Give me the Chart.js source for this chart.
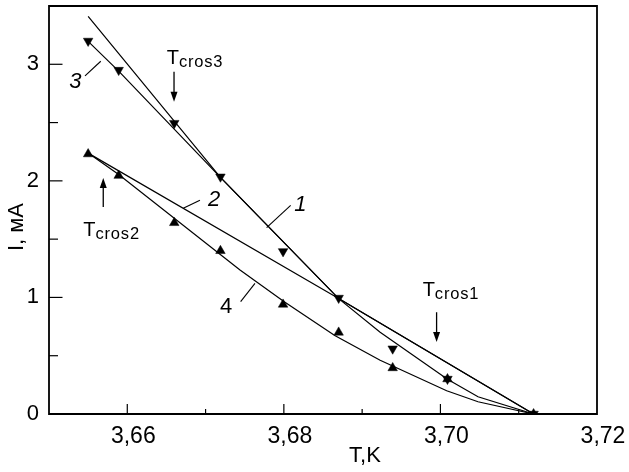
<!DOCTYPE html>
<html><head><meta charset="utf-8">
<script src="https://cdn.jsdelivr.net/npm/chart.js@4"></script>
<style>html,body{margin:0;padding:0;background:#fff}#wrap{width:629px;height:472px;position:relative}</style>
</head><body><div id="wrap"><canvas id="c"></canvas></div>
<script>
// ---- data ----
// series 3 (down triangles)
const tDown = [3.6550, 3.6589, 3.6660, 3.6719, 3.6799, 3.6870, 3.6939, 3.7009, 3.7119];
const iDown = [3.20, 2.95, 2.495, 2.035, 1.395, 0.995, 0.56, 0.30, 0.00];
// series 4 (up triangles)
const tUp = [3.6550, 3.6589, 3.6660, 3.6719, 3.6799, 3.6870, 3.6939, 3.7009, 3.7119];
const iUp = [2.23, 2.045, 1.64, 1.40, 0.94, 0.70, 0.395, 0.30, 0.00];
// curve 1
const tLine1 = [3.6550, 3.6719, 3.6870, 3.7119];
const iLine1 = [3.41, 2.03, 0.99, 0.00];
// curve 2
const tLine2 = [3.6550, 3.6870, 3.7119];
const iLine2 = [2.238, 0.99, 0.00];
// curve 3
const tLine3 = [3.6550, 3.6589, 3.6719, 3.6870, 3.6923, 3.7009, 3.7048, 3.7119];
const iLine3 = [3.197, 2.941, 2.03, 0.99, 0.702, 0.299, 0.148, 0.00];
// curve 4
const tLine4 = [3.6550, 3.6589, 3.6744, 3.6800, 3.6865, 3.6923, 3.7008, 3.7048, 3.7119];
const iLine4 = [2.238, 2.054, 1.235, 0.965, 0.674, 0.461, 0.199, 0.105, 0.00];
// tick labels
const xLabelValues = [3.66, 3.68, 3.70, 3.72];
const xLabelTexts = ['3,66', '3,68', '3,70', '3,72'];
const yLabelValues = [0, 1, 2, 3];
const yLabelTexts = ['0', '1', '2', '3'];
const xTitle = 'T,K';
const yTitle = 'I, мА';
const curveNames = ['1', '2', '3', '4'];
const crossNames = ['cros1', 'cros2', 'cros3'];

// ---- build ----
const pts = (xs, ys) => xs.map((x, k) => ({x: x, y: ys[k]}));
const FONT = '"Liberation Sans", Arial, Helvetica, sans-serif';

function lineDs(xs, ys) {
  return {data: pts(xs, ys), showLine: true, borderColor: '#000', borderWidth: 1.2,
          pointRadius: 0, pointHoverRadius: 0, tension: 0, fill: false};
}
function markDs(xs, ys, rot) {
  return {data: pts(xs, ys), showLine: false, pointStyle: 'triangle', pointRotation: rot,
          pointRadius: 5.5, pointBackgroundColor: '#000', pointBorderColor: '#000', pointBorderWidth: 0.5};
}

// annotation placements (data coordinates)
const notes = {
  labels: [
    {text: curveNames[0], t: 3.68212, i: 1.790, italic: true, lead: [3.68087, 1.789, 3.67780, 1.598]},
    {text: curveNames[1], t: 3.67110, i: 1.840, italic: true, lead: [3.66928, 1.834, 3.66715, 1.764]},
    {text: curveNames[2], t: 3.65338, i: 2.846, italic: true, lead: [3.65460, 2.901, 3.65661, 3.026]},
    {text: curveNames[3], t: 3.67261, i: 0.916, italic: false, lead: [3.67448, 0.964, 3.67631, 1.120]}
  ],
  cros: [
    {sub: crossNames[0], t: 3.69773, i: 1.015, arrow: [3.69951, 0.873, 0.617]},
    {sub: crossNames[1], t: 3.65438, i: 1.527, arrow: [3.65693, 1.775, 2.025]},
    {sub: crossNames[2], t: 3.66503, i: 3.006, arrow: [3.66597, 2.935, 2.679]}
  ]
};

function labelFor(v, vals, texts) {
  for (let k = 0; k < vals.length; k++) if (Math.abs(v - vals[k]) < 1e-6) return texts[k];
  return '';
}

const decor = {
  id: 'decor',
  afterDraw(chart) {
    const ctx = chart.ctx, a = chart.chartArea, xs = chart.scales.x, ys = chart.scales.y;
    ctx.save();
    ctx.strokeStyle = '#000'; ctx.fillStyle = '#000';
    // frame
    ctx.lineWidth = 1.8;
    ctx.beginPath();
    ctx.rect(a.left, a.top, a.right - a.left, a.bottom - a.top);
    ctx.stroke();
    // x ticks (inward)
    ctx.lineWidth = 1.2;
    xs.ticks.forEach(tk => {
      if (Math.abs(tk.value - xs.min) < 1e-9 || Math.abs(tk.value - xs.max) < 1e-9) return;
      const p = xs.getPixelForValue(tk.value);
      const major = labelFor(tk.value, xLabelValues, xLabelTexts) !== '';
      const L = major ? 10 : 5;
      ctx.beginPath(); ctx.moveTo(p, a.bottom); ctx.lineTo(p, a.bottom - L); ctx.stroke();
    });
    ys.ticks.forEach(tk => {
      if (Math.abs(tk.value - ys.min) < 1e-9 || Math.abs(tk.value - ys.max) < 1e-9) return;
      const p = ys.getPixelForValue(tk.value);
      const major = labelFor(tk.value, yLabelValues, yLabelTexts) !== '';
      const L = major ? 13.5 : 9;
      ctx.beginPath(); ctx.moveTo(a.left, p); ctx.lineTo(a.left + L, p); ctx.stroke();
    });
    // curve labels with leaders
    ctx.lineWidth = 1.1;
    notes.labels.forEach(n => {
      ctx.font = (n.italic ? 'italic ' : '') + '22px ' + FONT;
      ctx.textAlign = 'center'; ctx.textBaseline = 'middle';
      ctx.fillText(n.text, xs.getPixelForValue(n.t), ys.getPixelForValue(n.i));
      ctx.beginPath();
      ctx.moveTo(xs.getPixelForValue(n.lead[0]), ys.getPixelForValue(n.lead[1]));
      ctx.lineTo(xs.getPixelForValue(n.lead[2]), ys.getPixelForValue(n.lead[3]));
      ctx.stroke();
    });
    // T_cros labels and arrows
    notes.cros.forEach(n => {
      const x0 = xs.getPixelForValue(n.t), y0 = ys.getPixelForValue(n.i);
      ctx.textAlign = 'left'; ctx.textBaseline = 'alphabetic';
      ctx.font = '20px ' + FONT;
      ctx.fillText('T', x0, y0);
      const w = ctx.measureText('T').width;
      ctx.font = '16.5px ' + FONT;
      try { ctx.letterSpacing = '0.8px'; } catch (e) {}
      ctx.fillText(n.sub, x0 + w, y0 + 3.5);
      try { ctx.letterSpacing = '0px'; } catch (e) {}
      const ax = xs.getPixelForValue(n.arrow[0]);
      const ya = ys.getPixelForValue(n.arrow[1]), yb = ys.getPixelForValue(n.arrow[2]);
      const dir = yb > ya ? 1 : -1;
      ctx.lineWidth = 1.3;
      ctx.beginPath(); ctx.moveTo(ax, ya); ctx.lineTo(ax, yb - dir * 7); ctx.stroke();
      ctx.beginPath(); ctx.moveTo(ax, yb); ctx.lineTo(ax - 3.5, yb - dir * 10); ctx.lineTo(ax + 3.5, yb - dir * 10); ctx.closePath(); ctx.fill();
    });
    // axis titles
    ctx.font = '22px ' + FONT;
    ctx.textAlign = 'center'; ctx.textBaseline = 'middle';
    ctx.fillText(xTitle, xs.getPixelForValue(3.69036), a.bottom + 42);
    ctx.save();
    ctx.translate(17, ys.getPixelForValue(1.604));
    ctx.rotate(-Math.PI / 2);
    ctx.fillText(yTitle, 0, 0);
    ctx.restore();
    ctx.restore();
  }
};

new Chart(document.getElementById('c'), {
  type: 'scatter',
  data: {
    datasets: [
      markDs(tDown, iDown, 180),
      markDs(tUp, iUp, 0),
      lineDs(tLine1, iLine1),
      lineDs(tLine2, iLine2),
      lineDs(tLine3, iLine3),
      lineDs(tLine4, iLine4)
    ]
  },
  options: {
    responsive: true, maintainAspectRatio: false, animation: false,
    layout: {padding: {top: 4, right: 32, left: 0, bottom: 0}},
    plugins: {legend: {display: false}, tooltip: {enabled: false}},
    events: [],
    scales: {
      x: {
        type: 'linear', min: 3.65, max: 3.72,
        grid: {display: false, drawTicks: false}, border: {display: false},
        ticks: {stepSize: 0.01, autoSkip: false, maxRotation: 0, padding: 9, labelOffset: 6,
                color: '#000', font: {family: FONT, size: 23},
                callback: v => labelFor(v, xLabelValues, xLabelTexts)},
        afterFit: s => { s.height = 58; s.paddingLeft = 0; s.paddingRight = 0; }
      },
      y: {
        type: 'linear', min: 0, max: 3.5,
        grid: {display: false, drawTicks: false}, border: {display: false},
        ticks: {stepSize: 0.5, autoSkip: false, padding: 10,
                color: '#000', font: {family: FONT, size: 22},
                callback: v => labelFor(v, yLabelValues, yLabelTexts)},
        afterFit: s => { s.width = 49; s.paddingTop = 0; s.paddingBottom = 0; }
      }
    }
  },
  plugins: [decor]
});
</script>
</body></html>
